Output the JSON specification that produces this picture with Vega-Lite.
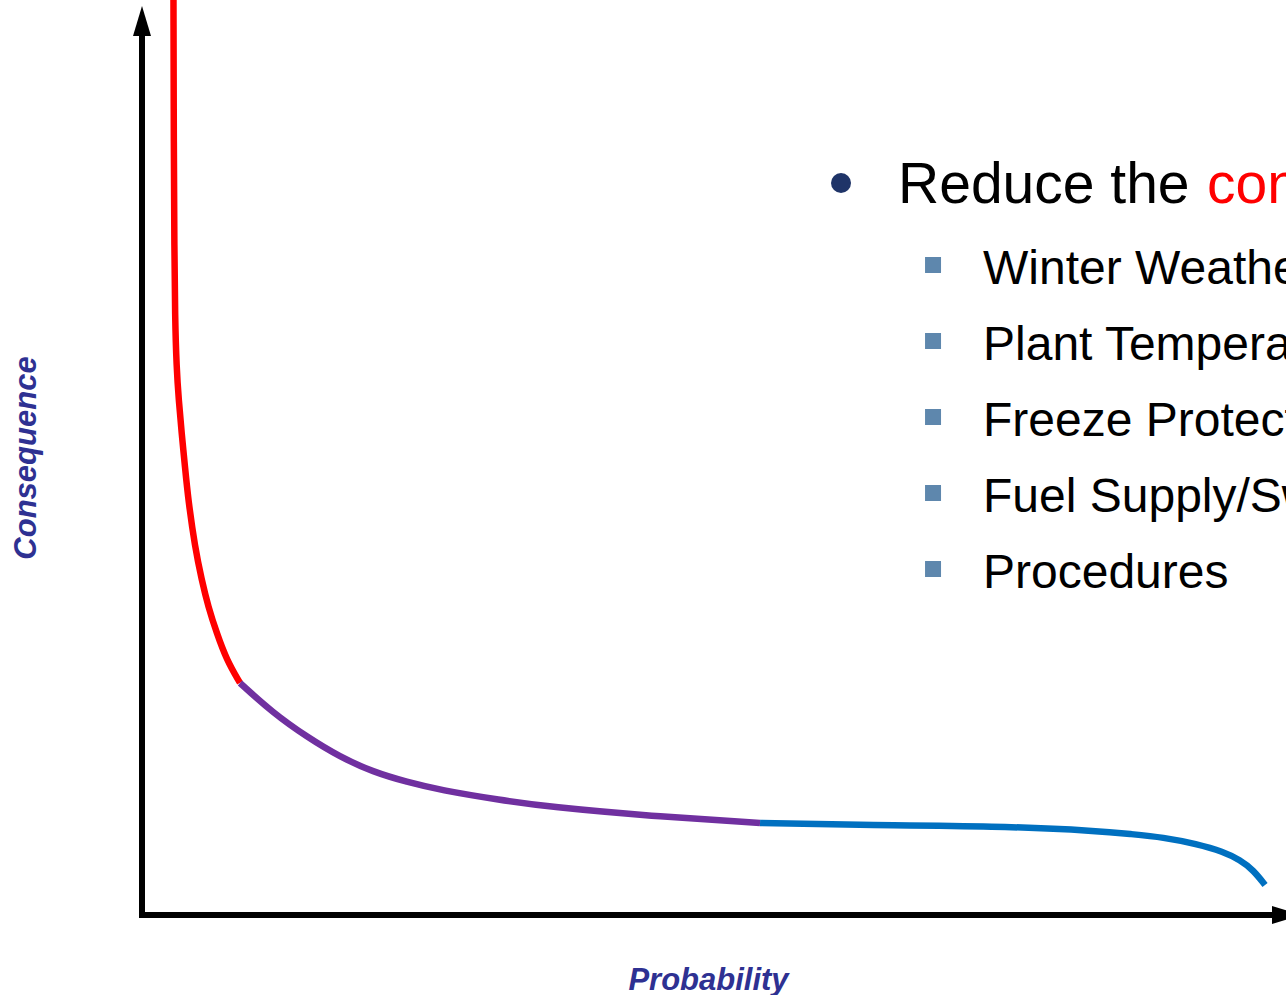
{
  "$schema": "https://vega.github.io/schema/vega-lite/v6.json",
  "width": 1144,
  "height": 915,
  "autosize": {"type": "none"},
  "padding": {"left": 142, "top": 0, "right": 0, "bottom": 80},
  "background": "#ffffff",
  "config": {"view": {"stroke": null}},
  "datasets": {
    "axes": [
      {"p": 0, "c": 0, "p2": 101.43, "c2": 0},
      {"p": 0, "c": 0, "p2": 0, "c2": 97.57}
    ],
    "arrows": [
      {"dir": "up", "p": 0, "c": 98.57},
      {"dir": "right", "p": 102.23, "c": 0}
    ],
    "curve": [
      {"segment": "high", "p": 2.81, "c": 100.88},
      {"segment": "high", "p": 2.84, "c": 84.34},
      {"segment": "high", "p": 2.89, "c": 73.32},
      {"segment": "high", "p": 2.95, "c": 65.93},
      {"segment": "high", "p": 3.08, "c": 60.42},
      {"segment": "high", "p": 3.28, "c": 56.78},
      {"segment": "high", "p": 3.54, "c": 53.14},
      {"segment": "high", "p": 3.84, "c": 49.39},
      {"segment": "high", "p": 4.13, "c": 45.76},
      {"segment": "high", "p": 4.73, "c": 40.57},
      {"segment": "high", "p": 5.33, "c": 36.93},
      {"segment": "high", "p": 5.92, "c": 33.96},
      {"segment": "high", "p": 6.67, "c": 31.09},
      {"segment": "high", "p": 7.56, "c": 28.11},
      {"segment": "high", "p": 8.75, "c": 25.58},
      {"segment": "mid", "p": 8.75, "c": 25.58},
      {"segment": "mid", "p": 11.70, "c": 22.27},
      {"segment": "mid", "p": 14.73, "c": 19.63},
      {"segment": "mid", "p": 17.68, "c": 17.42},
      {"segment": "mid", "p": 20.63, "c": 15.77},
      {"segment": "mid", "p": 23.66, "c": 14.66},
      {"segment": "mid", "p": 26.61, "c": 13.78},
      {"segment": "mid", "p": 31.96, "c": 12.68},
      {"segment": "mid", "p": 36.43, "c": 11.91},
      {"segment": "mid", "p": 45.36, "c": 10.92},
      {"segment": "mid", "p": 55.18, "c": 10.14},
      {"segment": "low", "p": 55.18, "c": 10.14},
      {"segment": "low", "p": 63.21, "c": 9.92},
      {"segment": "low", "p": 76.61, "c": 9.81},
      {"segment": "low", "p": 85.54, "c": 9.26},
      {"segment": "low", "p": 88.21, "c": 8.93},
      {"segment": "low", "p": 91.19, "c": 8.57},
      {"segment": "low", "p": 94.17, "c": 7.83},
      {"segment": "low", "p": 96.54, "c": 6.98},
      {"segment": "low", "p": 98.04, "c": 6.06},
      {"segment": "low", "p": 99.22, "c": 4.96},
      {"segment": "low", "p": 100.27, "c": 3.31}
    ],
    "headline": [
      {"label": "Reduce the", "tone": "plain", "p": 67.5, "c": 78.5},
      {"label": "consequences", "tone": "emphasis", "p": 95.09, "c": 78.5}
    ],
    "items": [
      {"label": "Winter Weatherization", "p": 75.09, "c": 69.57},
      {"label": "Plant Temperature Design", "p": 75.09, "c": 61.19},
      {"label": "Freeze Protection", "p": 75.09, "c": 52.81},
      {"label": "Fuel Supply/Switching", "p": 75.09, "c": 44.43},
      {"label": "Procedures", "p": 75.09, "c": 36.05}
    ]
  },
  "encoding": {
    "x": {
      "field": "p",
      "type": "quantitative",
      "scale": {"domain": [0, 102.14], "nice": false, "zero": false},
      "axis": {
        "title": "Probability",
        "domain": false,
        "ticks": false,
        "labels": false,
        "grid": false,
        "titleFont": "Liberation Sans",
        "titleFontStyle": "italic",
        "titleFontWeight": "bold",
        "titleFontSize": 31,
        "titleColor": "#2E3192",
        "titlePadding": 50,
        "titleX": 566
      }
    },
    "y": {
      "field": "c",
      "type": "quantitative",
      "scale": {"domain": [0, 100.88], "nice": false, "zero": false},
      "axis": {
        "title": "Consequence",
        "domain": false,
        "ticks": false,
        "labels": false,
        "grid": false,
        "titleFont": "Liberation Sans",
        "titleFontStyle": "italic",
        "titleFontWeight": "bold",
        "titleFontSize": 31,
        "titleColor": "#2E3192",
        "titlePadding": 100
      }
    }
  },
  "layer": [
    {
      "data": {"name": "axes"},
      "mark": {"type": "rule", "color": "#000000", "strokeWidth": 6, "strokeCap": "square"},
      "encoding": {
        "x2": {"field": "p2"},
        "y2": {"field": "c2"}
      }
    },
    {
      "data": {"name": "arrows"},
      "mark": {"type": "point", "filled": true, "color": "#000000", "opacity": 1, "size": 900, "strokeWidth": 0},
      "encoding": {
        "shape": {
          "field": "dir",
          "type": "nominal",
          "scale": {"domain": ["up", "right"], "range": ["M0,-1L0.6,1L-0.6,1Z", "M1,0L-1,0.6L-1,-0.6Z"]},
          "legend": null
        }
      }
    },
    {
      "data": {"name": "curve"},
      "mark": {"type": "line", "strokeWidth": 6.5, "interpolate": "basis", "strokeCap": "butt"},
      "encoding": {
        "color": {
          "field": "segment",
          "type": "nominal",
          "scale": {"domain": ["high", "mid", "low"], "range": ["#FF0000", "#7030A0", "#0070C0"]},
          "legend": null
        }
      }
    },
    {
      "data": {"name": "headline"},
      "transform": [{"filter": "datum.tone === 'plain'"}],
      "mark": {"type": "point", "shape": "circle", "filled": true, "color": "#1F3468", "opacity": 1, "size": 400, "xOffset": -57, "yOffset": -20}
    },
    {
      "data": {"name": "headline"},
      "mark": {"type": "text", "align": "left", "baseline": "alphabetic", "font": "Liberation Sans", "fontSize": 57, "clip": true},
      "encoding": {
        "text": {"field": "label"},
        "color": {"condition": {"test": "datum.tone === 'emphasis'", "value": "#FF0000"}, "value": "#000000"}
      }
    },
    {
      "data": {"name": "items"},
      "mark": {"type": "point", "shape": "square", "filled": true, "color": "#5E87AD", "opacity": 1, "size": 256, "xOffset": -50, "yOffset": -19}
    },
    {
      "data": {"name": "items"},
      "mark": {"type": "text", "align": "left", "baseline": "alphabetic", "font": "Liberation Sans", "fontSize": 48, "color": "#000000", "clip": true},
      "encoding": {
        "text": {"field": "label"}
      }
    }
  ]
}
